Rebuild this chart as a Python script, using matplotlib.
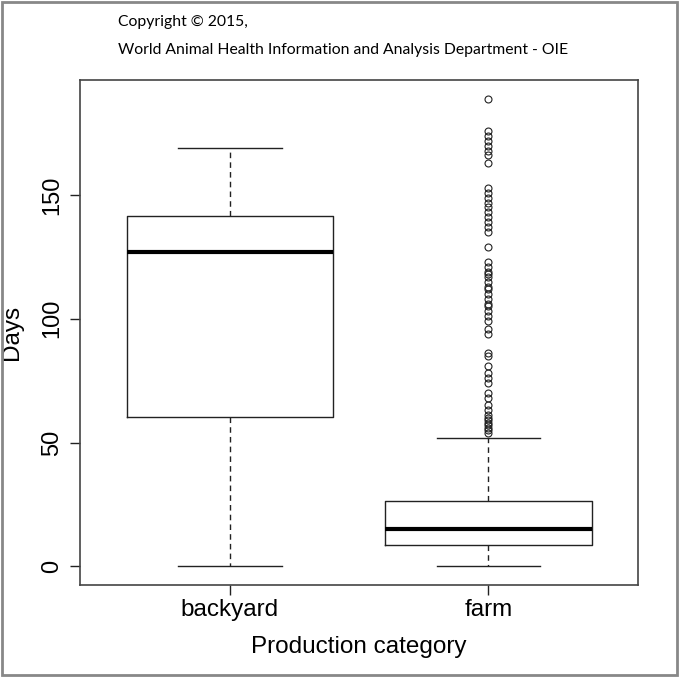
import matplotlib.pyplot as plt
from matplotlib.patches import Rectangle

# box summary values (days)
categories = ['backyard', 'farm']
q1 = [60.5, 8.7]
medians = [127, 15.2]
q3 = [141.7, 26.4]
whisker_lo = [0, 0]
whisker_hi = [169, 52]
backyard_outliers = []
farm_outliers = [189, 176, 174, 172, 170, 168, 166, 163,
                 153, 151, 149, 147, 145, 143, 141, 139, 137, 135,
                 129, 123, 121, 119, 118, 117, 115, 113, 112, 110,
                 108, 106, 105, 103, 101, 99, 96, 94, 86, 85,
                 81, 78, 76, 74, 70, 68, 65, 63, 61, 60, 59, 58,
                 57, 56, 55, 54]
y_ticks = [0, 50, 100, 150]

stats = []
fl = [backyard_outliers, farm_outliers]
for i, c in enumerate(categories):
    stats.append({'label': c, 'q1': q1[i], 'med': medians[i], 'q3': q3[i],
                  'whislo': whisker_lo[i], 'whishi': whisker_hi[i], 'fliers': fl[i]})

fig = plt.figure(figsize=(6.79, 6.77), dpi=100)
ax = fig.add_axes([0.118, 0.136, 0.822, 0.746])

lc = '#222222'
ax.bxp(stats, positions=[1, 2], widths=0.8, manage_ticks=False,
       boxprops=dict(color=lc, lw=1),
       medianprops=dict(color='black', lw=3, solid_capstyle='butt'),
       whiskerprops=dict(color=lc, lw=1, linestyle=(0, (4, 3))),
       capprops=dict(color=lc, lw=1), capwidths=0.4,
       flierprops=dict(marker='o', markersize=5, markerfacecolor='none',
                       markeredgecolor=lc, markeredgewidth=0.8))

top = 189
ax.set_xlim(0.42, 2.58)
ax.set_ylim(-0.04 * top, top * 1.04)
ax.set_xticks([1, 2])
ax.set_xticklabels(categories, fontsize=17.5, family='Liberation Sans')
ax.set_yticks(y_ticks)
ax.set_yticklabels([str(t) for t in y_ticks], fontsize=17, family='Liberation Sans',
                   rotation=90, va='center')
ax.tick_params(direction='out', length=7, width=1, color=lc)
ax.tick_params(axis='x', pad=3)
ax.tick_params(axis='y', pad=5)
for s in ax.spines.values():
    s.set_color('#444444')
    s.set_linewidth(1.2)
ax.set_xlabel('Production category', fontsize=17.5, family='Liberation Sans', labelpad=11)
ax.set_ylabel('Days', fontsize=17.5, family='Liberation Sans', va='center')
ax.yaxis.set_label_coords(-0.122, 0.5)

fig.text(118 / 679, 1 - 22 / 677, 'Copyright © 2015,', fontsize=11.3,
         family='Lato', va='center', ha='left')
fig.text(118 / 679, 1 - 50 / 677,
         'World Animal Health Information and Analysis Department - OIE',
         fontsize=11.3, family='Lato', va='center', ha='left')

fig.patches.append(Rectangle((0.003, 0.003), 0.994, 0.994, transform=fig.transFigure,
                             fill=False, edgecolor='#888888', lw=2))

fig.savefig('out.png', dpi=100)
